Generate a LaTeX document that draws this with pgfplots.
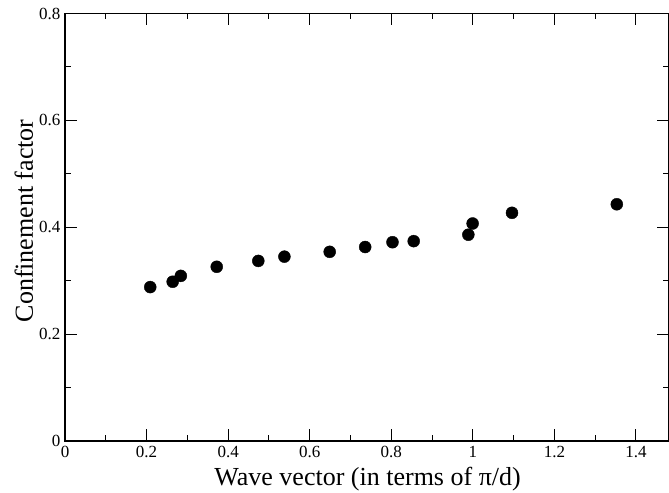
\documentclass[border=0pt]{standalone}
\usepackage{pgfplots}
\pgfplotsset{compat=1.18}
\usepackage{fontspec}
\setmainfont{Liberation Serif}
\begin{document}
\begin{tikzpicture}
\path[use as bounding box] (0,0) rectangle (669bp,493bp);
\begin{axis}[
  at={(65bp,52bp)}, anchor=south west,
  scale only axis, width=604bp, height=427.5bp,
  xmin=0, xmax=1.481, ymin=0, ymax=0.8,
  xtick={0,0.2,...,1.4}, ytick={0,0.2,0.4,0.6,0.8},
  minor x tick num=1, minor y tick num=1,
  tick align=inside, tick pos=both,
  major tick length=12bp, minor tick length=6bp,
  every tick/.style={black, line width=1bp},
  axis line style={line width=1.3bp},
  /pgf/number format/assume math mode=true,
  tick label style={font=\fontsize{17bp}{20bp}\selectfont},
  xticklabel style={yshift=-2bp},
  yticklabel style={xshift=-1bp},
  xlabel={Wave vector (in terms of π/d)},
  ylabel={Confinement factor},
  label style={font=\fontsize{26bp}{30bp}\selectfont},
  xlabel style={at={(axis description cs:0.501,-0.105)}, anchor=base, inner sep=0pt},
  ylabel style={at={(axis description cs:-0.053,0.515)}, anchor=base, inner sep=0pt},
  clip=false,
]
\addplot[only marks, mark=*, mark size=6bp, black] coordinates {
(0.209,0.288) (0.264,0.298) (0.284,0.309) (0.372,0.326) (0.474,0.337)
(0.538,0.345) (0.649,0.354) (0.736,0.363) (0.803,0.372) (0.855,0.374)
(0.989,0.386) (0.9995,0.407) (1.096,0.427) (1.353,0.443)
};
\end{axis}
\end{tikzpicture}
\end{document}
